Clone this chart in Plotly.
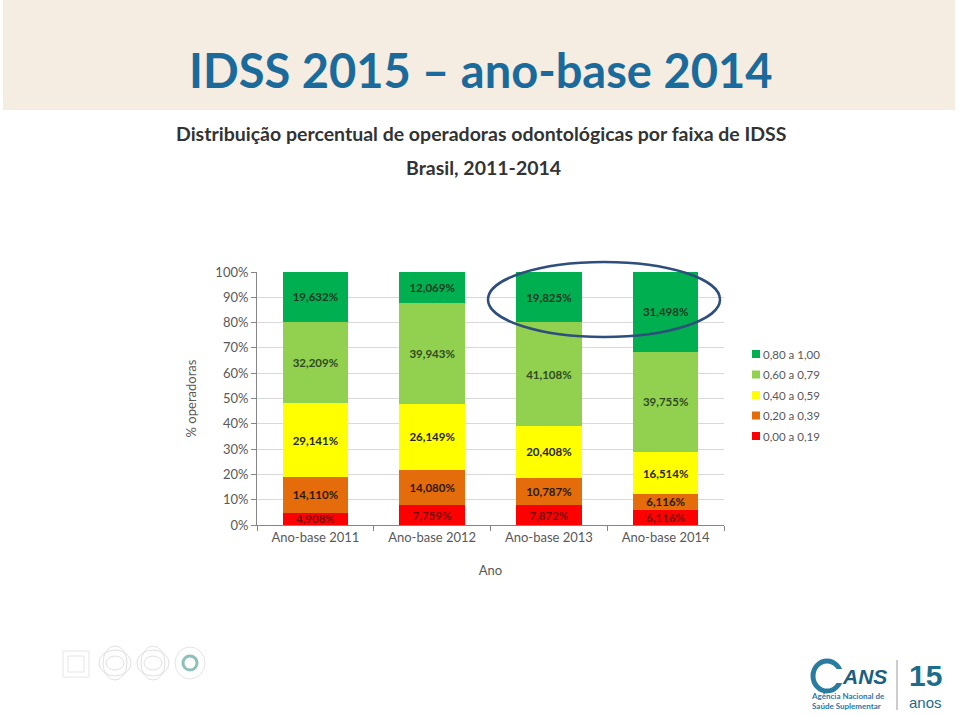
import plotly.graph_objects as go

# data (% of operators per IDSS band)
anos = ["Ano-base 2011", "Ano-base 2012", "Ano-base 2013", "Ano-base 2014"]
faixas = ["0,00 a 0,19", "0,20 a 0,39", "0,40 a 0,59", "0,60 a 0,79", "0,80 a 1,00"]
faixa_000_019 = [4.908, 7.759, 7.872, 6.116]
faixa_020_039 = [14.110, 14.080, 10.787, 6.116]
faixa_040_059 = [29.141, 26.149, 20.408, 16.514]
faixa_060_079 = [32.209, 39.943, 41.108, 39.755]
faixa_080_100 = [19.632, 12.069, 19.825, 31.498]

cores = ["#FF0000", "#E46C0A", "#FFFF00", "#92D050", "#00B050"]
cores_texto = ["#7a0a0a", "#2a1a0a", "#262626", "#2f4a1f", "#1d3a22"]

FONT = "Lato, sans-serif"

# plot area in pixels
L, R, T, B = 257, 724, 272, 525


def px(x):
    return (x - L) / (R - L)


def py(y):
    return (B - y) / (B - T)


fig = go.Figure()
series = [faixa_000_019, faixa_020_039, faixa_040_059, faixa_060_079, faixa_080_100]
for nome, vals, cor, ct in zip(faixas, series, cores, cores_texto):
    fig.add_trace(go.Bar(
        x=anos, y=vals, name=nome,
        marker=dict(color=cor, line=dict(width=0)),
        texttemplate="%{y:.3f}%",
        textposition="inside", insidetextanchor="middle",
        constraintext="none",
        textfont=dict(family=FONT, size=11.5, color=ct, weight="bold"),
        hoverinfo="skip", showlegend=False,
    ))

shapes = []
ann = []
# legend drawn by hand (top entry = highest band)
for i, (nome, cor) in enumerate(zip(faixas[::-1], cores[::-1])):
    yc = 354 + i * 20.5
    shapes.append(dict(type="rect", xref="paper", yref="paper",
                       x0=px(752), x1=px(760), y0=py(yc + 4), y1=py(yc - 4),
                       fillcolor=cor, line=dict(width=0)))
    ann.append(dict(text=nome, x=px(761), y=py(yc), xanchor="left", yanchor="middle",
                    font=dict(family=FONT, size=11.5, color="#595959")))

# header banner
shapes.append(dict(type="rect", xref="paper", yref="paper",
                   x0=px(3), x1=px(955), y0=py(110), y1=py(0),
                   fillcolor="#F5EDE1", line=dict(width=0), layer="below"))
# highlight ellipse
shapes.append(dict(type="circle", xref="paper", yref="paper",
                   x0=px(488), x1=px(720), y0=py(337), y1=py(262),
                   line=dict(color="#2E4E7E", width=2.5)))
# faint logos bottom left
shapes.append(dict(type="rect", xref="paper", yref="paper",
                   x0=px(63), x1=px(89), y0=py(677), y1=py(651),
                   line=dict(color="#e6e6e6", width=1)))
shapes.append(dict(type="rect", xref="paper", yref="paper",
                   x0=px(68), x1=px(84), y0=py(672), y1=py(656),
                   line=dict(color="#e6e6e6", width=1)))
for cx in [115, 153]:
    for rr in [(16, 13), (12, 17), (9, 7)]:
        shapes.append(dict(type="circle", xref="paper", yref="paper",
                           x0=px(cx - rr[0]), x1=px(cx + rr[0]),
                           y0=py(663 + rr[1]), y1=py(663 - rr[1]),
                           line=dict(color="#e0e0e0", width=1)))
shapes.append(dict(type="circle", xref="paper", yref="paper",
                   x0=px(175), x1=px(205), y0=py(679), y1=py(647),
                   line=dict(color="#e4e4e4", width=1)))
shapes.append(dict(type="circle", xref="paper", yref="paper",
                   x0=px(183), x1=px(197), y0=py(670), y1=py(656),
                   line=dict(color="#8cc0b8", width=3)))
# ANS logo mark
shapes.append(dict(type="circle", xref="paper", yref="paper",
                   x0=px(813), x1=px(841), y0=py(691), y1=py(661),
                   line=dict(color="#2a7ba0", width=5)))
shapes.append(dict(type="rect", xref="paper", yref="paper",
                   x0=px(830), x1=px(846), y0=py(683), y1=py(669),
                   fillcolor="white", line=dict(width=0)))
shapes.append(dict(type="line", xref="paper", yref="paper",
                   x0=px(897), x1=px(897), y0=py(710), y1=py(660),
                   line=dict(color="#9a9a9a", width=1)))

textos = [
    dict(text="<b>IDSS 2015 – ano-base 2014</b>", x=px(480), y=py(70),
         font=dict(family=FONT, size=47, color="#1B6A9C")),
    dict(text="<b>Distribuição percentual de operadoras odontológicas por faixa de IDSS</b>",
         x=px(481), y=py(133), font=dict(family=FONT, size=19.5, color="#333333")),
    dict(text="<b>Brasil, 2011-2014</b>", x=px(483), y=py(167),
         font=dict(family=FONT, size=19.5, color="#333333")),
    dict(text="<b><i>ANS</i></b>", x=px(864), y=py(676),
         font=dict(family="Liberation Sans, sans-serif", size=21, color="#1D5F7E")),
    dict(text="<b>Agência Nacional de<br>Saúde Suplementar</b>", x=px(848), y=py(701),
         font=dict(family=FONT, size=8, color="#2a78a8"), align="left"),
    dict(text="<b>15</b>", x=px(925), y=py(675),
         font=dict(family="Liberation Sans, sans-serif", size=30, color="#1C6D8C")),
    dict(text="anos", x=px(925), y=py(702),
         font=dict(family="Liberation Sans, sans-serif", size=15, color="#1C6D8C")),
]
for a in textos:
    a.update(xanchor="center", yanchor="middle")
ann += textos
for a in ann:
    a.update(xref="paper", yref="paper", showarrow=False)

fig.update_layout(
    width=960, height=716,
    margin=dict(l=L, r=960 - R, t=T, b=716 - B, pad=0),
    paper_bgcolor="white", plot_bgcolor="white",
    barmode="stack", bargap=0.44,
    separators=",.",
    font=dict(family=FONT, size=13, color="#595959"),
    showlegend=False,
    shapes=shapes, annotations=ann,
)
fig.update_yaxes(range=[0, 100], dtick=10, ticksuffix="%",
                 showgrid=True, gridcolor="#D9D9D9", gridwidth=1,
                 showline=True, linecolor="#868686", ticks="outside",
                 ticklen=5, tickcolor="#868686", zeroline=False,
                 title=dict(text="% operadoras", standoff=15, font=dict(size=13)))
fig.update_xaxes(showline=True, linecolor="#868686", ticks="outside",
                 tickson="boundaries", ticklen=5, tickcolor="#868686",
                 title=dict(text="Ano", standoff=22, font=dict(size=13)))

fig.write_html("out.html", config={"displayModeBar": False},
               post_script="document.body.style.margin='0';")
